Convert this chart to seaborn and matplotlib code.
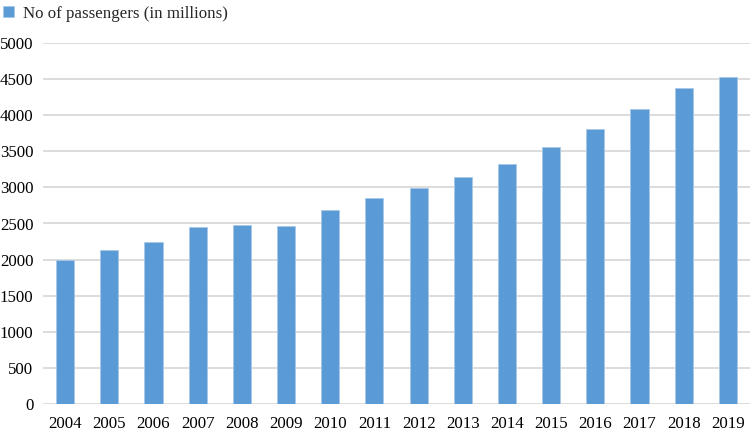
import matplotlib
matplotlib.use("Agg")
import matplotlib.pyplot as plt
import seaborn as sns
import pandas as pd

years = ["2004", "2005", "2006", "2007", "2008", "2009", "2010", "2011",
         "2012", "2013", "2014", "2015", "2016", "2017", "2018", "2019"]
passengers = [1993, 2129, 2250, 2449, 2476, 2472, 2694, 2851,
              2986, 3139, 3324, 3564, 3810, 4088, 4375, 4532]
series_name = "No of passengers (in millions)"
y_ticks = [0, 500, 1000, 1500, 2000, 2500, 3000, 3500, 4000, 4500, 5000]

df = pd.DataFrame({"Year": years, "Value": passengers, "Series": series_name})

sns.set_theme(style="white")
plt.rcParams["font.family"] = ["Liberation Serif", "DejaVu Serif"]

fig = plt.figure(figsize=(7.51, 4.33), dpi=100)
ax = fig.add_axes([43 / 751, 1 - 403.7 / 433, (750 - 43) / 751, (403.7 - 43.3) / 433])

sns.barplot(data=df, x="Year", y="Value", hue="Series", palette=["#5B9BD5"],
            width=0.41, ax=ax, saturation=1, edgecolor="#A9C8EA", linewidth=0.6,
            legend=True)

ax.set_ylim(0, 5000)
ax.set_yticks(y_ticks)
ax.set_yticklabels([str(t) for t in y_ticks])
ax.set_xlim(-0.5, len(years) - 0.5)
ax.yaxis.grid(True, color="#D9D9D9", linewidth=1.3)
ax.set_axisbelow(True)
for s in ax.spines.values():
    s.set_visible(False)
ax.tick_params(axis="both", length=0, labelsize=12.2, colors="#000000")
ax.tick_params(axis="y", pad=7)
ax.tick_params(axis="x", pad=9)
ax.set_xlabel("")
ax.set_ylabel("")

leg = ax.legend(loc="upper left", bbox_to_anchor=(-43 / 707, 1 + 41 / 360.4),
                frameon=False, fontsize=12.2, handlelength=0.65, handleheight=0.65,
                handletextpad=0.5, borderaxespad=0, borderpad=0.2)

fig.savefig("out.png", dpi=100)
